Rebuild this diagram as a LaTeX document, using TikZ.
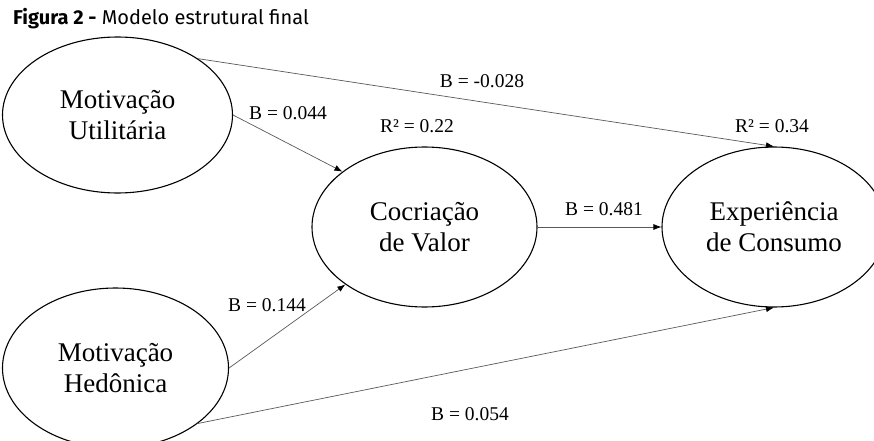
\documentclass[tikz,border=0pt]{standalone}
\usepackage{fontspec}
\setmainfont{Liberation Serif}
\newfontfamily\titlefont{Fira Sans}
\usetikzlibrary{shapes.geometric,arrows.meta}

\begin{document}
\begin{tikzpicture}[x=1pt,y=-1pt,
        latent/.style={ellipse,draw,line width=1.1pt,inner sep=0pt,align=center,font=\fontsize{27}{31}\selectfont},
        path/.style={-{Latex[length=8pt,width=6pt,color=black]},draw=black!65,line width=0.7pt},
        coef/.style={inner sep=0pt,font=\fontsize{19.5}{21}\selectfont}]
        \useasboundingbox (0,0) rectangle (874,441);
        \node[anchor=base west,inner sep=0pt,font=\titlefont\fontsize{20}{23}\selectfont] (title) at (13,25) {\textbf{Figura 2 -} Modelo estrutural final};
        \node[latent,minimum width=230pt,minimum height=156pt] (U) at (117.5,115) {Motivação\\Utilitária};
        \node[latent,minimum width=226pt,minimum height=160pt] (H) at (115.5,368) {Motivação\\Hedônica};
        \node[latent,minimum width=225pt,minimum height=160pt] (C) at (424.5,227) {Cocriação\\de Valor};
        \node[latent,minimum width=224pt,minimum height=160pt] (E) at (774,227) {Experiência\\de Consumo};
        \draw[path] (U.east) to (C.146);
        \draw[path] (H.east) to (C.216);
        \draw[path] (U.35) to (E.north);
        \draw[path] (H.-34) to (E.south);
        \draw[path] (C.east) to (E.west);
        \node[coef] (bUC) at (288,113) {B = 0.044};
        \node[coef] (bHC) at (267,305) {B = 0.144};
        \node[coef] (bUE) at (482,81) {B = -0.028};
        \node[coef] (bHE) at (470,414) {B = 0.054};
        \node[coef] (bCE) at (604,209) {B = 0.481};
        \node[coef] (rC) at (417,126) {R² = 0.22};
        \node[coef] (rE) at (772,126) {R² = 0.34};
\end{tikzpicture}
\end{document}
